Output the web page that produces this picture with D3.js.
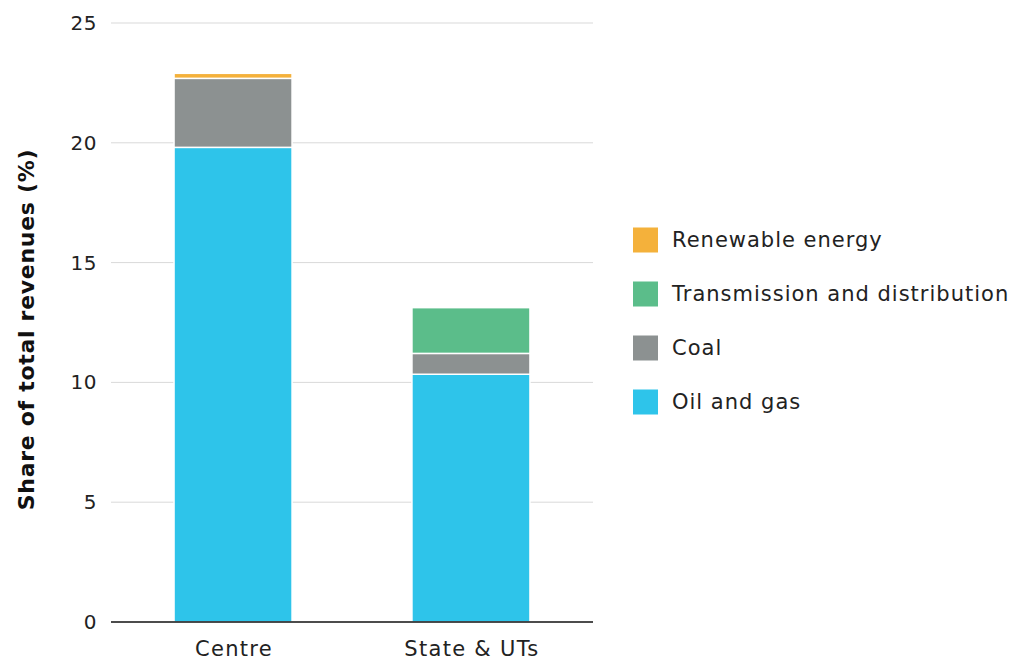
<!DOCTYPE html>
<html><head><meta charset="utf-8">
<script src="https://cdn.jsdelivr.net/npm/d3@7"></script>
<style>body{margin:0;background:#fff;font-family:"DejaVu Sans",sans-serif;}</style>
</head><body><svg id="c" width="1011" height="660"></svg>
<script>
const categories = ["Centre", "State & UTs"];
const seriesNames = ["Oil and gas", "Coal", "Transmission and distribution", "Renewable energy"];
const oilGas = [19.81, 10.34];
const coal = [2.88, 0.87];
const transmission = [0, 1.91];
const renewable = [0.21, 0];
const yTicks = [0, 5, 10, 15, 20, 25];
const colors = ["#2EC4EA", "#8C9191", "#5BBD8A", "#F4B13B"];
const legendOrder = ["Renewable energy", "Transmission and distribution", "Coal", "Oil and gas"];

const rows = categories.map((c, i) => ({cat: c, "Oil and gas": oilGas[i], "Coal": coal[i],
  "Transmission and distribution": transmission[i], "Renewable energy": renewable[i]}));
const stacked = d3.stack().keys(seriesNames)(rows);
const color = d3.scaleOrdinal().domain(seriesNames).range(colors);

const svg = d3.select("#c");
const x = d3.scaleBand().domain(categories).range([111, 593]).paddingInner(0.504).paddingOuter(0.265);
const y = d3.scaleLinear().domain([0, 25]).range([622, 23]);

// grid
svg.append("g").selectAll("line").data(yTicks.filter(t => t > 0)).join("line")
  .attr("x1", 111).attr("x2", 593).attr("y1", d => y(d)).attr("y2", d => y(d))
  .attr("stroke", "#d9d9d9").attr("stroke-width", 1);

// tick labels
svg.append("g").selectAll("text").data(yTicks).join("text")
  .attr("x", 97).attr("y", d => y(d)).attr("dy", "0.35em").attr("text-anchor", "end")
  .attr("font-size", 20).attr("letter-spacing", 0.5).attr("fill", "#222").text(d => d);

// bars
svg.append("g").selectAll("g").data(stacked).join("g").attr("fill", d => color(d.key))
  .selectAll("rect").data(d => d.filter(s => s[1] - s[0] > 0)).join("rect")
  .attr("x", d => x(d.data.cat)).attr("width", x.bandwidth())
  .attr("y", d => y(d[1])).attr("height", d => y(d[0]) - y(d[1]))
  .attr("stroke", "#fff").attr("stroke-width", 1.5);

// baseline
svg.append("line").attr("x1", 111).attr("x2", 593).attr("y1", y(0)).attr("y2", y(0))
  .attr("stroke", "#111").attr("stroke-width", 1.5);

// x labels
svg.append("g").selectAll("text").data(categories).join("text")
  .attr("x", d => x(d) + x.bandwidth() / 2 + 1).attr("y", 656).attr("text-anchor", "middle")
  .attr("font-size", 21).attr("letter-spacing", 1.3).attr("fill", "#222").text(d => d);

// y title
svg.append("text").attr("transform", "translate(34," + ((y(0) + y(25)) / 2 + 7) + ") rotate(-90)")
  .attr("text-anchor", "middle").attr("font-size", 22).attr("font-weight", "bold")
  .attr("letter-spacing", 0.7).attr("fill", "#111").text("Share of total revenues (%)");

// legend
const lg = svg.append("g").selectAll("g").data(legendOrder).join("g")
  .attr("transform", (d, i) => "translate(633," + (240 + i * 54) + ")");
lg.append("rect").attr("x", 0).attr("y", -12.5).attr("width", 25).attr("height", 25).attr("fill", d => color(d));
lg.append("text").attr("x", 39).attr("y", 0).attr("dy", "0.35em").attr("font-size", 21)
  .attr("letter-spacing", 1).attr("fill", "#222").text(d => d);
</script></body></html>
